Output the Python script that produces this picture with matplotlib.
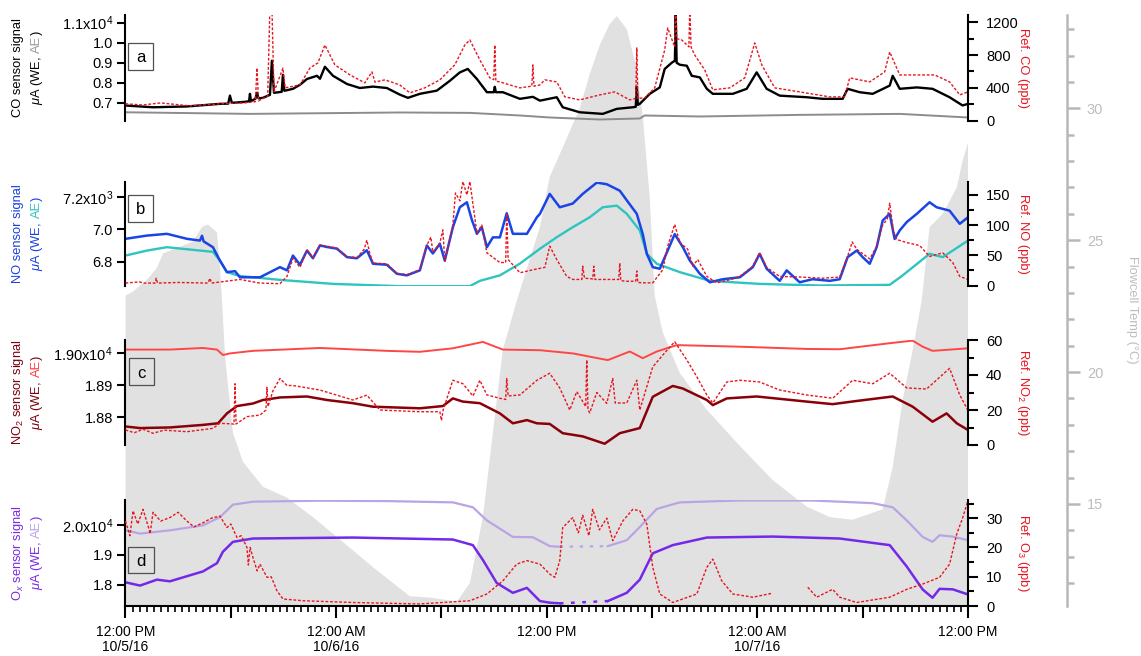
import numpy as np
import matplotlib
matplotlib.use("Agg")
import matplotlib.pyplot as plt
from matplotlib.patches import Rectangle
from matplotlib.ticker import MultipleLocator

plt.rcParams["font.family"] = ["Liberation Sans", "DejaVu Sans"]
plt.rcParams["mathtext.fontset"] = "custom"
plt.rcParams["mathtext.rm"] = "Liberation Sans"
plt.rcParams["mathtext.it"] = "Liberation Sans:italic"
plt.rcParams["mathtext.bf"] = "Liberation Sans:bold"

nan = np.nan

# ---- data: (hours since 12:00 PM 10/5/16, value) ----
temp_pts = [(0, 22.9), (0.43, 23.05), (1.22, 23.5), (1.79, 23.95), (2.14, 24.5), (3.10, 24.75),
            (3.84, 24.95), (4.36, 25.5), (4.70, 25.6), (5.21, 25.3), (5.38, 24.0), (5.50, 22.7),
            (5.67, 20.6), (6.12, 17.7), (6.69, 16.6), (7.83, 15.65), (9.20, 15.24), (10.68, 14.5),
            (12.22, 13.65), (14.10, 12.6), (16.20, 11.5), (17.34, 11.45), (18.88, 11.3), (19.62, 12.0),
            (20.36, 14.5), (20.93, 17.7), (21.50, 20.85), (22.29, 22.7), (23.04, 24.3), (23.61, 25.5),
            (24.17, 27.4), (25.03, 28.7), (25.88, 30.0), (26.45, 31.3), (27.02, 32.4), (27.59, 33.2),
            (27.99, 33.5), (28.56, 33.0), (29.13, 31.5), (29.47, 29.7), (29.87, 26.6), (30.15, 22.9),
            (30.61, 21.5), (31.58, 19.97), (33.12, 18.57), (35.00, 17.2), (36.88, 15.9), (38.81, 14.9),
            (40.12, 14.5), (41.43, 14.4), (43.14, 14.8), (43.71, 16.4), (44.28, 18.95), (44.85, 20.85),
            (45.36, 22.7), (45.81, 25.5), (46.56, 26.0), (47.36, 27.0), (47.69, 28.0), (48.0, 28.7)]

co_we_pts = [(0, 6866), (1.57, 6780), (3.50, 6820), (5.38, 6950), (5.85, 6960), (5.95, 7360), (6.06, 7000),
             (6.80, 7050), (7.04, 7080), (7.09, 7450), (7.15, 7090), (7.40, 7200), (7.49, 7500), (7.58, 7220),
             (7.83, 7250), (8.23, 7400), (8.34, 9100), (8.46, 7500), (8.90, 7550), (8.97, 8400), (9.05, 7600),
             (9.54, 7700), (9.94, 7900), (10.34, 8190), (10.91, 8350), (11.08, 8200), (11.36, 8800),
             (11.82, 8350), (12.62, 7940), (13.35, 7740), (14.10, 7810), (14.89, 7740), (15.63, 7410),
             (16.09, 7250), (16.77, 7450), (17.74, 7610), (18.48, 8100), (19.05, 8520), (19.50, 8690),
             (20.02, 8190), (20.59, 7530), (20.98, 7530), (21.04, 7800), (21.10, 7530), (21.50, 7530),
             (22.47, 7200), (23.21, 7300), (23.61, 7110), (24.57, 7280), (24.91, 6780), (25.88, 6530),
             (27.19, 6450), (27.99, 6700), (28.90, 6780), (29.07, 6800), (29.13, 7800), (29.19, 6900),
             (29.30, 6950), (29.87, 7450), (30.44, 7770), (30.72, 8690), (31.12, 9000), (31.30, 9100),
             (31.35, 11400), (31.40, 9000), (31.58, 8900), (31.98, 8850), (32.26, 8350), (32.72, 8270),
             (33.12, 7700), (33.46, 7450), (34.60, 7450), (35.39, 7700), (35.96, 8520), (36.53, 7700),
             (37.27, 7360), (38.81, 7280), (39.72, 7200), (40.86, 7200), (41.14, 7700), (41.83, 7530),
             (42.57, 7450), (43.54, 7860), (43.71, 8350), (44.11, 7700), (45.08, 7770), (45.98, 7700),
             (46.95, 7280), (47.69, 6870), (48.0, 6950)]

co_ae_pts = [(0, 6530), (7.09, 6450), (15.63, 6520), (19.62, 6500), (22.47, 6370), (24.17, 6270),
             (27.02, 6170), (29.30, 6220), (29.58, 6370), (32.72, 6320), (38.41, 6400), (44.11, 6450),
             (48.0, 6270)]

co_ref_pts = [(0, 204), (1.0, 190), (2.0, 215), (3.67, 179), (5.38, 204), (6.80, 216), (7.40, 230),
              (7.49, 643), (7.58, 240), (8.10, 300), (8.23, 1400), (8.34, 1400), (8.46, 350), (8.97, 640),
              (9.10, 400), (9.94, 435), (10.51, 643), (10.96, 704), (11.36, 923), (11.93, 680),
              (12.79, 557), (13.64, 460), (14.04, 594), (14.21, 470), (14.78, 497), (15.63, 435),
              (16.20, 338), (17.05, 399), (17.91, 497), (18.76, 680), (19.33, 923), (19.62, 985),
              (20.19, 740), (20.76, 521), (20.98, 500), (21.04, 923), (21.10, 480), (21.33, 472),
              (21.90, 435), (22.47, 399), (23.15, 420), (23.21, 680), (23.27, 420), (23.61, 435),
              (23.89, 497), (24.57, 472), (25.03, 289), (25.88, 252), (27.02, 313), (27.88, 350),
              (28.73, 252), (29.07, 270), (29.13, 887), (29.19, 270), (29.58, 277), (30.15, 399),
              (30.72, 862), (30.89, 1131), (31.29, 900), (31.35, 1400), (31.41, 1000), (31.69, 985),
              (32.10, 900), (32.15, 1400), (32.22, 900), (32.43, 801), (33.00, 619), (33.46, 375),
              (34.43, 399), (35.28, 521), (35.85, 948), (36.25, 680), (36.99, 399), (38.41, 350),
              (40.12, 289), (40.97, 289), (41.26, 521), (42.40, 472), (43.25, 594), (43.54, 838),
              (44.11, 557), (45.25, 557), (46.10, 557), (46.95, 472), (47.53, 313), (48.0, 350)]

no_we_pts = [(0, 6941), (1.22, 6961), (2.36, 6972), (3.50, 6941), (4.24, 6930), (4.36, 6960), (4.45, 6925),
             (4.98, 6889), (5.38, 6806), (5.78, 6734), (6.24, 6740), (6.52, 6702), (7.66, 6702),
             (8.06, 6724), (8.80, 6765), (9.20, 6745), (9.54, 6837), (9.94, 6780), (10.34, 6868),
             (10.68, 6820), (11.08, 6900), (11.48, 6890), (12.04, 6880), (12.62, 6827), (13.18, 6820),
             (13.75, 6870), (14.10, 6786), (14.89, 6780), (15.46, 6724), (16.03, 6714), (16.77, 6745),
             (17.17, 6900), (17.51, 6850), (17.91, 6910), (18.19, 6806), (18.65, 7013), (19.05, 7137),
             (19.45, 7168), (19.73, 7060), (20.02, 6972), (20.30, 7013), (20.59, 6889), (20.93, 6950),
             (21.33, 6950), (21.72, 7100), (22.07, 6972), (22.87, 6972), (23.44, 7075), (23.61, 7096),
             (24.17, 7220), (24.74, 7137), (25.48, 7160), (26.05, 7220), (26.85, 7290), (27.42, 7280),
             (28.16, 7240), (28.56, 7180), (29.13, 7096), (29.47, 6970), (29.70, 6848), (30.04, 6765),
             (30.44, 6755), (30.89, 6868), (31.29, 6970), (31.75, 6890), (32.15, 6806), (32.72, 6724),
             (33.29, 6671), (34.03, 6690), (35.00, 6702), (35.74, 6765), (36.13, 6848), (36.53, 6755),
             (37.27, 6680), (37.67, 6745), (38.41, 6671), (39.15, 6690), (40.12, 6680), (40.69, 6690),
             (41.14, 6827), (41.66, 6868), (42.00, 6827), (42.40, 6786), (42.80, 6890), (43.14, 7055),
             (43.54, 7096), (43.82, 6940), (44.11, 6993), (44.51, 7045), (45.08, 7096), (45.81, 7168),
             (46.21, 7137), (46.95, 7116), (47.53, 7034), (48.0, 7075)]

no_ae_pts = [(0, 6837), (1.22, 6868), (2.36, 6889), (4.24, 6868), (4.98, 6860), (5.38, 6806), (5.78, 6734),
             (6.52, 6710), (8.80, 6686), (11.82, 6661), (15.63, 6647), (19.62, 6647), (20.19, 6680),
             (21.33, 6714), (22.47, 6787), (23.61, 6879), (24.57, 6951), (25.48, 7013), (26.45, 7075),
             (27.19, 7137), (27.99, 7147), (28.56, 7096), (29.30, 6993), (29.70, 6848), (30.27, 6786),
             (31.58, 6734), (33.29, 6680), (36.13, 6661), (39.55, 6651), (43.54, 6655), (44.28, 6714),
             (45.81, 6848), (46.56, 6827), (48.0, 6930)]

no_ref_pts = [(0, 4), (0.8, 6), (1.0, 4), (1.68, 4), (1.75, 12), (1.82, 4), (3.0, 5), (4.7, 4), (4.81, 12),
              (4.9, 4), (6.52, 10), (7.66, 4), (8.80, 3), (9.20, 15), (9.54, 45), (9.94, 30), (10.34, 59),
              (10.68, 46), (11.08, 67), (11.48, 65), (12.04, 62), (12.62, 48), (13.18, 46), (13.60, 60),
              (13.75, 75), (13.90, 55), (14.10, 37), (14.89, 36), (15.46, 20), (16.03, 18), (16.77, 26),
              (17.17, 67), (17.40, 80), (17.51, 55), (17.91, 70), (18.08, 92), (18.19, 40), (18.65, 100),
              (18.80, 153), (19.05, 140), (19.22, 172), (19.45, 150), (19.62, 172), (20.02, 87),
              (20.30, 100), (20.59, 54), (21.33, 38), (21.66, 38), (21.72, 120), (21.80, 43), (22.47, 21),
              (23.21, 26), (23.89, 30), (24.17, 65), (24.57, 43), (25.14, 15), (25.48, 10), (26.00, 10),
              (26.05, 32), (26.15, 12), (26.62, 11), (26.68, 32), (26.75, 10), (27.42, 10), (28.10, 10),
              (28.16, 37), (28.22, 8), (28.56, 7), (29.07, 7), (29.13, 24), (29.19, 5), (29.47, 4.4),
              (30.04, 4.4), (30.61, 26), (30.89, 65), (31.29, 101), (31.58, 71), (32.03, 60), (32.32, 32),
              (32.60, 43), (33.12, 15), (33.69, 4.4), (34.5, 10), (35.0, 15), (35.74, 32), (36.13, 54),
              (36.53, 30), (37.27, 15), (38.41, 14), (39.72, 12), (40.69, 14), (41.14, 48), (41.40, 72),
              (41.66, 60), (42.40, 44), (42.80, 65), (43.14, 100), (43.40, 110), (43.54, 136),
              (43.75, 90), (43.94, 76), (44.51, 71), (45.25, 66), (45.81, 48), (46.56, 54), (47.13, 38),
              (47.53, 15), (48.0, 10)]

no2_ae_pts = [(0, 19012), (2.53, 19012), (4.41, 19017), (5.21, 19012), (5.55, 18995), (5.95, 19000),
              (7.26, 19008), (11.08, 19017), (14.89, 19008), (16.77, 19005), (18.65, 19016), (20.36, 19036),
              (21.50, 19012), (23.61, 19010), (25.48, 19000), (27.48, 18979), (28.73, 19006), (29.47, 18985),
              (30.27, 19006), (31.41, 19026), (35.00, 19021), (38.81, 19014), (40.69, 19013), (43.54, 19032),
              (44.85, 19040), (45.42, 19021), (45.98, 19008), (48.0, 19016)]

no2_we_pts = [(0, 18771), (0.83, 18766), (2.53, 18768), (4.41, 18776), (5.27, 18781), (5.78, 18812),
              (6.35, 18835), (7.26, 18843), (7.83, 18854), (8.80, 18862), (10.34, 18865), (11.48, 18854),
              (12.96, 18844), (14.10, 18833), (16.77, 18828), (18.08, 18835), (18.65, 18859), (19.22, 18849),
              (20.19, 18844), (21.33, 18812), (22.07, 18781), (22.87, 18791), (23.44, 18781), (24.17, 18779),
              (24.91, 18750), (26.05, 18740), (27.30, 18717), (28.16, 18750), (29.30, 18766), (30.04, 18864),
              (31.18, 18898), (31.75, 18890), (33.12, 18854), (33.46, 18838), (34.26, 18859), (35.96, 18865),
              (38.81, 18849), (40.29, 18841), (41.66, 18851), (43.71, 18865), (44.85, 18833), (45.98, 18786),
              (46.78, 18812), (47.36, 18781), (48.0, 18760)]

no2_ref_pts = [(0, 8.6), (0.5, 7), (1.0, 9), (1.57, 6.7), (2.2, 8.5), (3.50, 7.6), (4.98, 9.5), (5.38, 12.4),
               (6.18, 12), (6.24, 35), (6.30, 12), (6.92, 16.2), (7.66, 17.1), (8.0, 20), (8.06, 33),
               (8.12, 22), (8.40, 31), (8.80, 38), (9.20, 34), (9.54, 34), (11.08, 31.4), (12.96, 25.7),
               (13.75, 28.5), (14.49, 20), (16.77, 19), (17.91, 19), (18.0, 14), (18.1, 20), (18.65, 37),
               (19.22, 35), (19.8, 28), (20.19, 37), (20.59, 28.6), (21.33, 26.7), (21.66, 26), (21.72, 38),
               (21.80, 28), (22.47, 28.6), (23.44, 37), (24.17, 41), (24.74, 32.6), (25.31, 20), (25.71, 30.5),
               (26.22, 22), (26.28, 48.6), (26.35, 20), (26.45, 18.4), (26.85, 30), (27.42, 23.8),
               (27.76, 38), (27.90, 24), (28.56, 24), (29.13, 37), (29.30, 20), (30.04, 44.7), (30.84, 54),
               (31.29, 59), (31.98, 48.6), (32.55, 39), (33.12, 28.6), (33.46, 24), (34.26, 36), (35.00, 37),
               (36.13, 36), (37.27, 31.4), (38.81, 28.6), (40.29, 26.7), (41.43, 37), (42.57, 35),
               (43.54, 41), (44.51, 32.6), (45.64, 32), (46.95, 43.8), (47.53, 28.6), (48.0, 19.7)]

ox_ae_pts = [(0, 19833), (0.83, 19722), (2.53, 19833), (4.41, 20000), (5.38, 20277), (6.12, 20700),
             (7.26, 20800), (11.08, 20833), (14.89, 20820), (18.65, 20777), (19.79, 20611), (20.59, 20167),
             (22.07, 19610), (23.21, 19600), (24.17, 19300), (24.74, 19277), (26.0, nan), (27.48, 19300),
             (28.56, 19500), (29.30, 19944), (30.27, 20556), (31.58, 20777), (35.00, 20840), (39.15, 20840),
             (42.57, 20750), (43.71, 20611), (44.51, 20167), (45.42, 19610), (45.98, 19444), (46.38, 19666),
             (47.13, 19620), (48.0, 19500)]

ox_we_pts = [(0, 18077), (0.83, 17967), (1.79, 18167), (2.53, 18111), (4.41, 18444), (5.21, 18722),
             (5.55, 19110), (6.12, 19444), (7.26, 19556), (12.96, 19589), (18.65, 19522), (19.79, 19333),
             (20.36, 18833), (21.15, 18055), (22.07, 17722), (22.87, 17889), (23.61, 17444), (24.17, 17389),
             (24.74, 17367), (26.0, nan), (27.48, 17444), (28.56, 17722), (29.30, 18167), (30.04, 19056),
             (31.18, 19333), (33.12, 19589), (36.88, 19622), (40.69, 19556), (43.54, 19333), (44.51, 18611),
             (45.42, 17833), (45.98, 17556), (46.38, 17856), (47.13, 17840), (48.0, 17667)]

# sparse stretch inside the Ox data gap
ox_gap_t = [24.74, 27.48]
ox_ae_gap = [19277, 19300]
ox_we_gap = [17367, 17444]

o3_ref_pts = [(0, 29), (0.25, 24), (0.43, 32.5), (0.7, 28), (1.0, 33), (1.35, 26), (1.40, 24.7), (1.57, 32),
              (2.0, 29), (2.53, 30.2), (3.0, 32), (3.50, 29), (3.9, 27), (4.41, 28.4), (4.9, 30), (5.38, 30.7),
              (5.78, 26.8), (6.0, 28), (6.35, 23.4), (6.6, 24), (6.92, 20), (7.0, 14), (7.1, 20), (7.26, 16.6),
              (7.50, 12), (7.66, 14.3), (8.06, 9.8), (8.3, 10), (8.63, 5.2), (8.97, 2.4), (10.11, 1.8),
              (12.96, 1.2), (16.77, 0.7), (19.62, 1.8), (20.59, 4.1), (21.50, 8.6), (22.29, 14.3),
              (22.87, 15.5), (23.61, 14.3), (24.17, 10.9), (24.46, 9.8), (24.74, 15.5), (24.91, 26.8),
              (25.48, 30.2), (25.8, 25), (26.05, 31), (26.4, 24), (26.62, 33), (27.0, 26), (27.42, 30),
              (27.76, 22.3), (28.33, 29), (28.9, 33), (29.30, 32.5), (29.70, 28), (30.04, 13.2), (30.44, 4.1),
              (31.18, 1.2), (32.55, 4.1), (33.12, 13.2), (33.46, 16), (33.97, 8.6), (34.60, 4.1), (35.74, 3),
              (36.88, 4.4), (37.5, nan), (38.87, 6.4), (39.38, 3), (40.29, 5.7), (40.69, 3), (41.66, 1.2),
              (43.54, 3), (44.51, 5.7), (45.42, 7.5), (46.38, 9.8), (46.95, 14.3), (47.36, 24.6),
              (47.69, 30), (48.0, 36)]

x_label_hours = [0, 12, 24, 36, 48]
x_labels = ["12:00 PM\n10/5/16", "12:00 AM\n10/6/16", "12:00 PM", "12:00 AM\n10/7/16", "12:00 PM"]


def unzip(pts):
    a = np.array(pts, dtype=float)
    return a[:, 0], a[:, 1]


RED = "#e8141e"
REF_LS = (0, (2.0, 1.3))
FILL = "#e1e1e1"
TEMP_C = "#b8b8b8"

W, H = 1141, 656
X0, X1 = 125.5, 968.0

fig = plt.figure(figsize=(W / 100, H / 100), dpi=100)

# ---- flowcell temperature, drawn behind everything ----
axT = fig.add_axes([X0 / W, 1 - 606 / H, (X1 - X0) / W, (606 - 15) / H])
t_h, t_v = unzip(temp_pts)
axT.fill_between(t_h, t_v, 0, color=FILL, lw=0)
axT.set_xlim(0, 48)
axT.set_ylim(11.13, 33.54)
axT.patch.set_visible(False)
for s in ("left", "top", "bottom"):
    axT.spines[s].set_visible(False)
axT.spines["right"].set_position(("outward", 71))
axT.spines["right"].set_color(TEMP_C)
axT.spines["right"].set_linewidth(1.8)
axT.yaxis.tick_right()
axT.set_yticks([15, 20, 25, 30])
axT.yaxis.set_minor_locator(MultipleLocator(1))
axT.tick_params(axis="y", which="major", length=9.5, width=1.8, color=TEMP_C,
                labelcolor="#bdbdbd", labelsize=10.5, pad=5)
axT.tick_params(axis="y", which="minor", length=5, width=1.8, color=TEMP_C)
axT.set_xticks([])
fig.text(1132 / W, 1 - 310 / H, "Flowcell Temp (°C)", rotation=270, ha="center", va="center",
         fontsize=9.3, color="#bdbdbd")


def make_panel(top, bot, ylim, yticks, ylabels, rylim, rmajor, rminor):
    ax = fig.add_axes([X0 / W, 1 - bot / H, (X1 - X0) / W, (bot - top) / H])
    ax.patch.set_visible(False)
    ax.set_xlim(0, 48)
    ax.set_ylim(*ylim)
    for s in ("top", "right", "bottom"):
        ax.spines[s].set_visible(False)
    ax.spines["left"].set_linewidth(1.5)
    ax.set_yticks(yticks)
    ax.set_yticklabels(ylabels)
    ax.tick_params(axis="y", length=6, width=1.5, labelsize=10.5, pad=3)
    ax.tick_params(axis="x", which="both", bottom=False, labelbottom=False)
    axr = ax.twinx()
    axr.set_ylim(*rylim)
    for s in ("top", "left", "bottom"):
        axr.spines[s].set_visible(False)
    axr.spines["right"].set_linewidth(1.5)
    axr.yaxis.set_major_locator(MultipleLocator(rmajor))
    axr.yaxis.set_minor_locator(MultipleLocator(rminor))
    axr.tick_params(axis="y", which="major", length=7, width=1.5, labelsize=10.5, pad=6)
    axr.tick_params(axis="y", which="minor", length=4, width=1.5)
    return ax, axr


# ---- a: CO ----
axa, axa_r = make_panel(15, 120.5, (6120, 11380), [7000, 8000, 9000, 10000, 11000],
                        ["0.7", "0.8", "0.9", "1.0", r"1.1x10$^4$"], (0, 1290), 400, 200)
axa.plot(*unzip(co_ae_pts), color="#8c8c8c", lw=1.4)
axa.plot(*unzip(co_we_pts), color="black", lw=1.7)
axa_r.plot(*unzip(co_ref_pts), color=RED, lw=1.0, ls=REF_LS)

# ---- b: NO ----
axb, axb_r = make_panel(181.5, 285.5, (6651, 7297), [6800, 7000, 7200],
                        ["6.8", "7.0", r"7.2x10$^3$"], (0, 172), 50, 25)
axb.plot(*unzip(no_ae_pts), color="#2ec4c0", lw=1.7)
axb.plot(*unzip(no_we_pts), color="#1a45e6", lw=1.8)
axb_r.plot(*unzip(no_ref_pts), color=RED, lw=1.0, ls=REF_LS)

# ---- c: NO2 ----
axc, axc_r = make_panel(340, 445, (18713, 19042), [18800, 18900, 19000],
                        ["1.88", "1.89", r"1.90x10$^4$"], (0, 60), 20, 10)
axc.plot(*unzip(no2_ae_pts), color="#ff4646", lw=1.4)
axc.plot(*unzip(no2_we_pts), color="#8a0008", lw=1.8)
axc_r.plot(*unzip(no2_ref_pts), color=RED, lw=1.0, ls=REF_LS)

# ---- d: Ox ----
axd, axd_r = make_panel(500, 606, (17277, 20857), [18000, 19000, 20000],
                        ["1.8", "1.9", r"2.0x10$^4$"], (0, 36.2), 10, 5)
axd.plot(*unzip(ox_ae_pts), color="#b9a4e6", lw=1.6)
axd.plot(ox_gap_t, ox_ae_gap, color="#b9a4e6", lw=1.6, ls=(0, (1.5, 3)))
axd.plot(*unzip(ox_we_pts), color="#7428e8", lw=1.8)
axd.plot(ox_gap_t, ox_we_gap, color="#7428e8", lw=1.8, ls=(0, (1.5, 3)))
axd_r.plot(*unzip(o3_ref_pts), color=RED, lw=1.0, ls=REF_LS)

axd.spines["bottom"].set_visible(True)
axd.spines["bottom"].set_linewidth(1.5)
major_h = np.arange(0, 49, 6)
label_map = dict(zip(x_label_hours, x_labels))
axd.set_xticks(major_h)
axd.set_xticklabels([label_map.get(int(h), "") for h in major_h])
axd.xaxis.set_minor_locator(MultipleLocator(0.4))
axd.tick_params(axis="x", which="major", bottom=True, labelbottom=True, length=8.5,
                width=1.5, labelsize=10, pad=5)
axd.tick_params(axis="x", which="minor", bottom=True, length=4.3, width=1.2)
for lbl in axd.get_xticklabels():
    lbl.set_linespacing(1.15)

# ---- right axis labels ----
for yc, txt in [(67.75, "Ref. CO (ppb)"), (233.5, "Ref. NO (ppb)"),
                (392.5, r"Ref. NO$_2$ (ppb)"), (553, r"Ref. O$_3$ (ppb)")]:
    fig.text(1023 / W, 1 - yc / H, txt, rotation=270, ha="center", va="center",
             fontsize=9.3, color=RED)

# ---- left axis labels (two lines, multi-coloured second line) ----
renderer = fig.canvas.get_renderer()


def stacked_label(x, yc, parts, size=9.3):
    # parts: (text, colour, gap_px_after); rotated 90, reading bottom to top
    lens = []
    for s, c, g in parts:
        t = fig.text(0, 0, s, rotation=90, fontsize=size)
        lens.append(t.get_window_extent(renderer).height)
        t.remove()
    total = sum(lens) + sum(p[2] for p in parts[:-1])
    ybot = yc + total / 2
    for (s, c, g), L in zip(parts, lens):
        fig.text(x / W, (H - ybot) / H, s, rotation=90, ha="center", va="bottom",
                 fontsize=size, color=c)
        ybot -= L + g


left_labels = [
    (67.75, "CO sensor signal", "black", "#9a9a9a"),
    (233.5, "NO sensor signal", "#1a3fe0", "#2ec4c0"),
    (392.5, r"NO$_2$ sensor signal", "#7a0010", "#ff3c3c"),
    (553, r"O$_x$ sensor signal", "#7a2ae6", "#b9a4e6"),
]
for yc, line1, c1, c2 in left_labels:
    fig.text(18 / W, 1 - yc / H, line1, rotation=90, ha="center", va="center",
             fontsize=9.3, color=c1)
    stacked_label(37, yc, [(r"$\mu$A (WE,", c1, 3.5), ("AE", c2, 0.5), (")", c1, 0)])

# ---- panel letters ----
boxes = [("a", 128, 43, 153, 70), ("b", 128, 195, 153, 222),
         ("c", 129, 358, 154, 385), ("d", 128, 547, 154, 573)]
for letter, bx0, by0, bx1, by1 in boxes:
    fig.add_artist(Rectangle((bx0 / W, 1 - by1 / H), (bx1 - bx0) / W, (by1 - by0) / H,
                             transform=fig.transFigure, fill=False, ec="#505050", lw=0.9))
    fig.text((bx0 + bx1) / 2 / W, 1 - (by0 + by1) / 2 / H, letter, ha="center",
             va="center_baseline", fontsize=12)

fig.savefig("out.png", dpi=100)
